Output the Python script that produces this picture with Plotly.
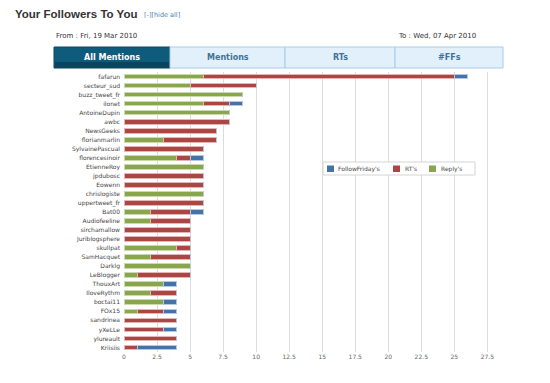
import plotly.graph_objects as go

users = ["fafarun", "secteur_sud", "buzz_tweet_fr", "ilonet", "AntoineDupin", "awbc",
         "NewsGeeks", "florianmarlin", "SylvainePascual", "florencesinoir", "EtienneRoy",
         "jpdubosc", "Eowenn", "chrislogiste", "uppertweet_fr", "Bat00", "Audiofeeline",
         "sirchamallow", "Juriblogsphere", "skullpat", "SamHacquet", "Darklg", "LeBlogger",
         "ThouxArt", "IloveRythm", "boctai11", "FOx15", "sandrinea", "yXeLLe", "ylureault",
         "Kriisiis"]
replies = [6, 5, 9, 6, 8, 0, 0, 3, 0, 4, 6, 0, 0, 6, 0, 2, 2, 0, 0, 4, 2, 5, 1,
           3, 2, 3, 1, 0, 0, 0, 0]
rts = [19, 5, 0, 2, 0, 8, 7, 4, 6, 1, 0, 6, 6, 0, 6, 3, 3, 5, 5, 1, 3, 0, 4,
       0, 2, 0, 2, 4, 3, 4, 1]
ffs = [1, 0, 0, 1, 0, 0, 0, 0, 0, 1, 0, 0, 0, 0, 0, 1, 0, 0, 0, 0, 0, 0, 0,
       1, 0, 1, 1, 0, 1, 0, 3]
x_ticks = [0, 2.5, 5, 7.5, 10, 12.5, 15, 17.5, 20, 22.5, 25, 27.5]
tabs = ["All Mentions", "Mentions", "RTs", "#FFs"]

# page body has an 8px margin: the figure starts at (8, 8) in the window
OFF = 8
W, H = 550 - OFF, 383 - OFF
ML, MR, MT, MB = 124 - OFF, 60, 72 - OFF, 31
PW, PH = W - ML - MR, H - MT - MB


def px(x):
    # window pixel x -> paper coordinate
    return (x - OFF - ML) / PW


def py(y):
    # window pixel y -> paper coordinate
    return (H - MB - (y - OFF)) / PH


fig = go.Figure()
series = [("Reply's", replies, "#89A54E", "#c9dbaa"),
          ("RT's", rts, "#AA4643", "#e3b5b4"),
          ("FollowFriday's", ffs, "#4572A7", "#b3c8e2")]
for name, vals, col, halo in series:
    fig.add_trace(go.Bar(
        y=users, x=vals, name=name, orientation="h",
        marker=dict(color=col, line=dict(color=halo, width=1)),
        showlegend=False,
    ))

fig.update_layout(
    width=W, height=H, barmode="stack", bargap=0.48,
    margin=dict(l=ML, r=MR, t=MT, b=MB, autoexpand=False),
    paper_bgcolor="white", plot_bgcolor="white",
    font=dict(family="DejaVu Sans", color="#555"),
    xaxis=dict(range=[0, 27.7], tickvals=x_ticks, ticktext=[f"{v:g}" for v in x_ticks],
               showgrid=True, gridcolor="#dcdcdc", gridwidth=1, zeroline=False,
               tickfont=dict(size=6, color="#666"), showline=False, ticks="",
               automargin=False),
    yaxis=dict(autorange="reversed", categoryorder="array", categoryarray=users,
               tickfont=dict(size=6, color="#444"), ticks="", showgrid=False,
               showline=False, ticklabelstandoff=3, automargin=False),
    showlegend=False,
)

shapes = []
annotations = []

# title
annotations.append(dict(x=px(13), y=py(14), xref="paper", yref="paper", text="<b>Your Followers To You</b>",
                        showarrow=False, xanchor="left", yanchor="middle",
                        font=dict(family="Liberation Sans", size=11.5, color="#333")))
annotations.append(dict(x=px(142), y=py(15), xref="paper", yref="paper", text="[-][hide all]",
                        showarrow=False, xanchor="left", yanchor="middle",
                        font=dict(family="DejaVu Sans", size=6.5, color="#4a7fb0")))
annotations.append(dict(x=px(54), y=py(36), xref="paper", yref="paper", text="From : Fri, 19 Mar 2010",
                        showarrow=False, xanchor="left", yanchor="middle",
                        font=dict(family="DejaVu Sans", size=7, color="#333")))
annotations.append(dict(x=px(478), y=py(36), xref="paper", yref="paper", text="To : Wed, 07 Apr 2010",
                        showarrow=False, xanchor="right", yanchor="middle",
                        font=dict(family="DejaVu Sans", size=7, color="#333")))

# tabs
edges = [54, 170, 285, 395, 503]
for i, t in enumerate(tabs):
    x0, x1 = edges[i], edges[i + 1]
    active = i == 0
    shapes.append(dict(type="rect", xref="paper", yref="paper",
                       x0=px(x0), x1=px(x1), y0=py(68), y1=py(47),
                       fillcolor="#0f5b7c" if active else "#e2f0fb",
                       line=dict(color="#0a4862" if active else "#a8cce6", width=1),
                       layer="above"))
    if active:
        shapes.append(dict(type="rect", xref="paper", yref="paper",
                           x0=px(x0 + 1), x1=px(x1 - 1), y0=py(68), y1=py(62),
                           fillcolor="#0a4560", line=dict(width=0), layer="above"))
    annotations.append(dict(x=px((x0 + x1) / 2), y=py(57.5), xref="paper", yref="paper",
                            text=f"<b>{t}</b>", showarrow=False, xanchor="center", yanchor="middle",
                            font=dict(family="DejaVu Sans", size=8,
                                      color="white" if active else "#3f7298")))

# legend (drawn manually for compact Highcharts-like layout)
shapes.append(dict(type="rect", xref="paper", yref="paper",
                   x0=px(323), x1=px(475), y0=py(175), y1=py(162),
                   fillcolor="white", line=dict(color="#d4d4d4", width=1), layer="above"))
legend_items = [(327, 336, "#4572A7", "FollowFriday's"),
                (393, 403, "#AA4643", "RT's"),
                (429, 439, "#89A54E", "Reply's")]
for sx, tx, col, name in legend_items:
    shapes.append(dict(type="rect", xref="paper", yref="paper",
                       x0=px(sx), x1=px(sx + 7), y0=py(172), y1=py(165.5),
                       fillcolor=col, line=dict(width=0), layer="above"))
    annotations.append(dict(x=px(tx), y=py(168.8), xref="paper", yref="paper", text=name,
                            showarrow=False, xanchor="left", yanchor="middle",
                            font=dict(family="DejaVu Sans", size=6, color="#444")))

fig.update_layout(shapes=shapes, annotations=annotations)
fig.write_html("out.html")
